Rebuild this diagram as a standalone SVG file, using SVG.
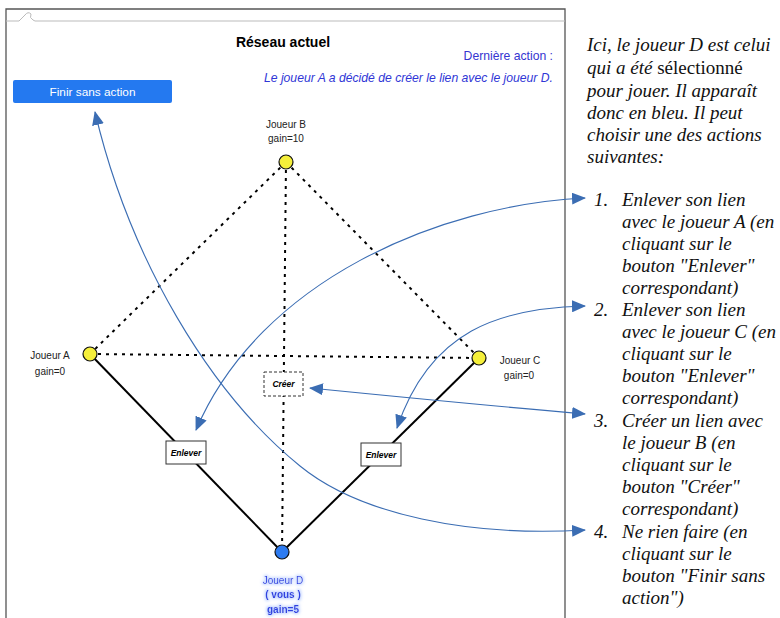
<svg xmlns="http://www.w3.org/2000/svg" width="780" height="618" viewBox="0 0 780 618">
<defs>
<style>
.ui{font-family:"Liberation Sans",Arial,sans-serif}
.lbl{font-family:"Liberation Sans",Arial,sans-serif;font-size:10px;fill:#222;text-anchor:middle}
.dot{stroke:#000;stroke-width:2;stroke-dasharray:3 5;fill:none}
.solid{stroke:#000;stroke-width:2;fill:none}
.node{stroke:#111;stroke-width:1.2}
.btn{fill:#fff;stroke:#333;stroke-width:1}
.btxt{font-family:"Liberation Sans",Arial,sans-serif;font-size:8.5px;font-weight:bold;font-style:italic;text-anchor:middle;fill:#000}
.arr{stroke:#3b6db3;stroke-width:1.1;fill:none;marker-start:url(#ah);marker-end:url(#ah)}
.note{font-family:"Liberation Serif","Times New Roman",serif;font-size:19px;font-style:italic;fill:#111}
</style>
<marker id="ah" viewBox="0 0 14 12" refX="13" refY="6" markerWidth="14" markerHeight="12" markerUnits="userSpaceOnUse" orient="auto-start-reverse">
<path d="M0,0 L14,6 L0,12 Z" fill="#3b6db3"/>
</marker>
<filter id="glow" x="-20%" y="-40%" width="140%" height="180%">
<feMorphology in="SourceAlpha" operator="dilate" radius="1.2" result="d"/>
<feGaussianBlur in="d" stdDeviation="1.5" result="b"/>
<feFlood flood-color="#a9c2ff" flood-opacity="0.75"/>
<feComposite in2="b" operator="in" result="g"/>
<feMerge><feMergeNode in="g"/><feMergeNode in="SourceGraphic"/></feMerge>
</filter>
</defs>
<rect width="780" height="618" fill="#fff"/>

<g id="frame">
<path d="M6,618 V9 H565 V618" fill="none" stroke="#555" stroke-width="1.3"/>
<path d="M6,21 H19 L25,15 Q28,11 31,14 Q29,18 33,20 L35,21 H565" fill="none" stroke="#bbb" stroke-width="1"/>
</g>

<g id="header">
<text x="283" y="47" class="ui" font-size="14" font-weight="bold" text-anchor="middle" fill="#000">Réseau actuel</text>
<text x="553" y="60" class="ui" font-size="12.2" text-anchor="end" fill="#3535d0">Dernière action :</text>
<text x="553" y="82" class="ui" font-size="12.2" font-style="italic" text-anchor="end" fill="#2f36d6">Le joueur A a décidé de créer le lien avec le joueur D.</text>
</g>

<g id="btn-finir">
<rect x="13" y="80" width="159" height="23" rx="2" fill="#2479f0"/>
<text x="92.5" y="96" class="ui" font-size="11.8" text-anchor="middle" fill="#fff">Finir sans action</text>
</g>

<g id="edges">
<line class="dot" x1="286" y1="162" x2="90" y2="354"/>
<line class="dot" x1="286" y1="162" x2="479" y2="358"/>
<line class="dot" x1="90" y1="354" x2="479" y2="358"/>
<line class="dot" x1="286" y1="162" x2="282" y2="552"/>
<line class="solid" x1="90" y1="354" x2="282" y2="552"/>
<line class="solid" x1="479" y1="358" x2="282" y2="552"/>
</g>

<g id="btn-creer">
<rect x="264" y="372" width="39" height="24" fill="#fff" stroke="#333" stroke-width="1" stroke-dasharray="3 2"/>
<text x="283.5" y="387" class="btxt">Créer</text>
</g>
<g id="btn-enlever-a">
<rect x="166" y="441" width="40" height="23" class="btn"/>
<text x="186" y="455.5" class="btxt">Enlever</text>
</g>
<g id="btn-enlever-c">
<rect x="361" y="443" width="40" height="23" class="btn"/>
<text x="381" y="457.5" class="btxt">Enlever</text>
</g>

<g id="node-b">
<circle cx="286" cy="162" r="7" fill="#f5ef3a" class="node"/>
<text x="286" y="128" class="lbl">Joueur B</text>
<text x="286" y="142" class="lbl">gain=10</text>
</g>
<g id="node-a">
<circle cx="90" cy="354" r="7" fill="#f5ef3a" class="node"/>
<text x="50" y="359" class="lbl">Joueur A</text>
<text x="50" y="375" class="lbl">gain=0</text>
</g>
<g id="node-c">
<circle cx="479" cy="358" r="7" fill="#f5ef3a" class="node"/>
<text x="520" y="364" class="lbl">Joueur C</text>
<text x="519" y="379" class="lbl">gain=0</text>
</g>
<g id="node-d">
<circle cx="282" cy="552" r="7" fill="#2d7bf0" class="node"/>
<g filter="url(#glow)">
<text x="283" y="584" class="lbl" style="fill:#2f3fe0">Joueur D</text>
<text x="283" y="598" class="lbl" font-weight="bold" style="fill:#2f3fe0">( vous )</text>
<text x="283" y="613" class="lbl" font-weight="bold" style="fill:#2f3fe0">gain=5</text>
</g>
</g>

<g id="connectors">
<path class="arr" d="M196,430 C260,280 440,205 585,198"/>
<path class="arr" d="M397,428 C430,330 500,308 585,306"/>
<path class="arr" d="M310,388 Q470,404 585,414"/>
<path class="arr" d="M95,112 C130,260 210,393 300,466 C360,515 470,537 585,530"/>
</g>

<g id="notes">
<text class="note"><tspan x="587" y="51">Ici, le joueur D est celui</tspan><tspan x="587" y="74">qui a été <tspan font-style="normal">sélectionné</tspan></tspan><tspan x="587" y="97">pour jouer. Il apparaît</tspan><tspan x="587" y="119">donc en bleu. Il peut</tspan><tspan x="587" y="141">choisir une des actions</tspan><tspan x="587" y="163">suivantes:</tspan></text>
<text class="note">
<tspan x="594" y="206">1.</tspan><tspan x="622" y="206">Enlever son lien</tspan>
<tspan x="622" y="228">avec le joueur A (en</tspan>
<tspan x="622" y="250">cliquant sur le</tspan>
<tspan x="622" y="272">bouton "Enlever"</tspan>
<tspan x="622" y="294">correspondant)</tspan>
<tspan x="594" y="316">2.</tspan><tspan x="622" y="316">Enlever son lien</tspan>
<tspan x="622" y="338">avec le joueur C (en</tspan>
<tspan x="622" y="360">cliquant sur le</tspan>
<tspan x="622" y="382">bouton "Enlever"</tspan>
<tspan x="622" y="404">correspondant)</tspan>
<tspan x="594" y="427">3.</tspan><tspan x="622" y="427">Créer un lien avec</tspan>
<tspan x="622" y="449">le joueur B (en</tspan>
<tspan x="622" y="471">cliquant sur le</tspan>
<tspan x="622" y="493">bouton "Créer"</tspan>
<tspan x="622" y="515">correspondant)</tspan>
<tspan x="594" y="538">4.</tspan><tspan x="622" y="538">Ne rien faire (en</tspan>
<tspan x="622" y="560">cliquant sur le</tspan>
<tspan x="622" y="582">bouton "Finir sans</tspan>
<tspan x="622" y="604">action")</tspan>
</text>
</g>
</svg>
